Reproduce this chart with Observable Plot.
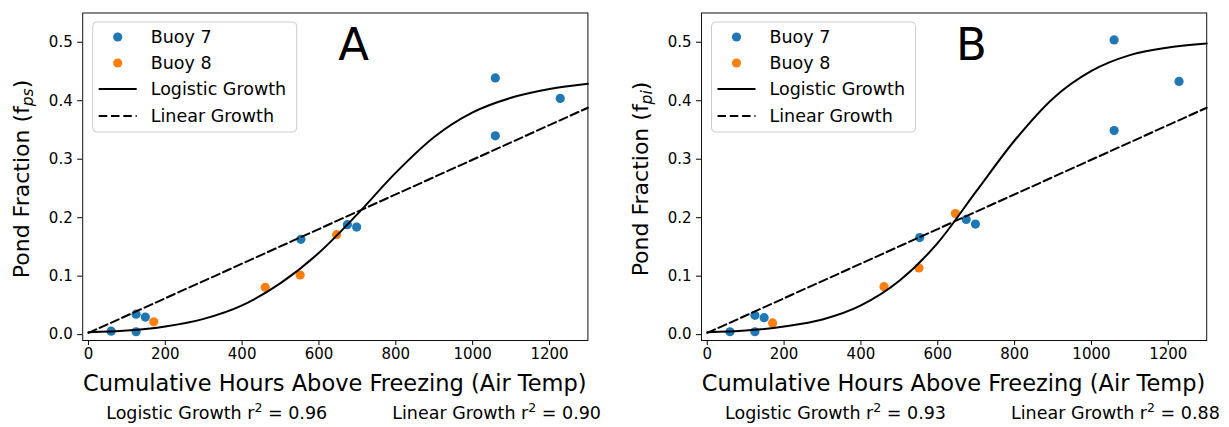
<!DOCTYPE html>
<html>
<head>
<meta charset="utf-8">
<script src="https://cdn.jsdelivr.net/npm/d3@7"></script>
<script src="https://cdn.jsdelivr.net/npm/@observablehq/plot@0.6"></script>
<style>
  html, body { margin: 0; padding: 0; background: white; }
  #wrap { position: relative; width: 1229px; height: 427px; overflow: hidden; font-family: "DejaVu Sans", sans-serif; }
  #wrap svg { position: absolute; top: 0; }
</style>
</head>
<body>
<div id="wrap"></div>
<script>
// ---- data ----
const xTicks = [0, 200, 400, 600, 800, 1000, 1200];
const yTicks = [0.0, 0.1, 0.2, 0.3, 0.4, 0.5];

const buoy7Hours = [59, 124, 124, 148, 553, 674, 698, 1059, 1059, 1228];
const buoy8Hours = [170, 460, 551, 646];

const buoy7A = [0.006, 0.005, 0.035, 0.030, 0.163, 0.188, 0.184, 0.439, 0.340, 0.404];
const buoy8A = [0.022, 0.081, 0.102, 0.171];
const buoy7B = [0.005, 0.005, 0.033, 0.029, 0.166, 0.197, 0.189, 0.504, 0.349, 0.433];
const buoy8B = [0.020, 0.082, 0.114, 0.207];

const curveHours = [0, 100, 200, 300, 400, 500, 600, 700, 800, 900, 1000, 1100, 1200, 1300];
const logisticA = [0.004, 0.007, 0.014, 0.027, 0.050, 0.088, 0.140, 0.206, 0.277, 0.338, 0.380, 0.405, 0.420, 0.429];
const logisticB = [0.004, 0.007, 0.014, 0.026, 0.050, 0.092, 0.157, 0.245, 0.332, 0.404, 0.451, 0.478, 0.491, 0.498];

const linearHours = [0, 1300];
const linearA = [0.003, 0.388];
const linearB = [0.003, 0.388];

const panelLetters = ["A", "B"];
const ySubscripts = ["ps", "pi"];
const r2Logistic = ["0.96", "0.93"];
const r2Linear = ["0.90", "0.88"];
const seriesNames = ["Buoy 7", "Buoy 8", "Logistic Growth", "Linear Growth"];

const blue = "#1f77b4", orange = "#ff7f0e";
const dash = "8.5,3.8";

function pts(xs, ys) { return xs.map((x, i) => ({x, y: ys[i]})); }

function panel(cfg) {
  const svg = Plot.plot({
    width: cfg.width,
    height: 427,
    marginLeft: cfg.mL,
    marginRight: cfg.mR,
    marginTop: 12.5,
    marginBottom: 87,
    x: {domain: [-15, 1300]},
    y: {domain: [-0.01, 0.55]},
    style: {fontFamily: "DejaVu Sans", fontSize: "15px", color: "black", background: "white", overflow: "visible"},
    marks: [
      Plot.axisX({ticks: xTicks, tickSize: 5, tickPadding: 3, tickFormat: d => String(d), label: null, fontSize: 15}),
      Plot.axisY({ticks: yTicks, tickSize: 5, tickPadding: 5, tickFormat: d3.format(".1f"), label: null, fontSize: 15}),
      Plot.dot(pts(buoy7Hours, cfg.b7), {x: "x", y: "y", r: 4.6, fill: blue}),
      Plot.dot(pts(buoy8Hours, cfg.b8), {x: "x", y: "y", r: 4.6, fill: orange}),
      Plot.line(pts(curveHours, cfg.logi), {x: "x", y: "y", stroke: "black", strokeWidth: 2, curve: "monotone-x"}),
      Plot.line(pts(linearHours, cfg.lin), {x: "x", y: "y", stroke: "black", strokeWidth: 2, strokeDasharray: dash}),
      Plot.frame({stroke: "#111", strokeWidth: 1})
    ]
  });
  svg.style.left = cfg.left + "px";
  const s = d3.select(svg);
  const x0 = cfg.mL, x1 = cfg.width - cfg.mR;
  const cx = (x0 + x1) / 2;

  // x label
  s.append("text").attr("x", cx).attr("y", 391).attr("text-anchor", "middle")
    .attr("font-family", "DejaVu Sans").attr("font-size", 22.5).attr("fill", "black")
    .text("Cumulative Hours Above Freezing (Air Temp)");

  // y label with subscript
  const yl = s.append("text").attr("transform", `translate(${cfg.mL - 53},179) rotate(-90)`)
    .attr("text-anchor", "middle").attr("font-family", "DejaVu Sans").attr("font-size", 22).attr("fill", "black");
  yl.append("tspan").text("Pond Fraction (f");
  yl.append("tspan").attr("font-size", 15.5).attr("font-style", "italic").attr("dy", 4).text(cfg.sub);
  yl.append("tspan").attr("dy", -4).text(")");

  // panel letter
  s.append("text").attr("x", x0 + cfg.letterDx).attr("y", 60).attr("text-anchor", "start").attr("font-family", "DejaVu Sans")
    .attr("font-size", 45).attr("fill", "black").text(cfg.letter);

  // legend
  const lx = x0 + 10.5, ly = 22;
  s.append("rect").attr("x", lx).attr("y", ly).attr("width", 204).attr("height", 110).attr("rx", 4)
    .attr("fill", "white").attr("fill-opacity", 0.8).attr("stroke", "#cccccc").attr("stroke-width", 1);
  const rows = [37, 63, 89, 116];
  const sx0 = lx + 6, sx1 = lx + 44, tx = lx + 58;
  s.append("circle").attr("cx", (sx0 + sx1) / 2).attr("cy", rows[0]).attr("r", 4.6).attr("fill", blue);
  s.append("circle").attr("cx", (sx0 + sx1) / 2).attr("cy", rows[1]).attr("r", 4.6).attr("fill", orange);
  s.append("line").attr("x1", sx0).attr("x2", sx1).attr("y1", rows[2]).attr("y2", rows[2]).attr("stroke", "black").attr("stroke-width", 2);
  s.append("line").attr("x1", sx0).attr("x2", sx1).attr("y1", rows[3]).attr("y2", rows[3]).attr("stroke", "black").attr("stroke-width", 2).attr("stroke-dasharray", dash);
  seriesNames.forEach((n, i) => {
    s.append("text").attr("x", tx).attr("y", rows[i] + 6.3).attr("text-anchor", "start").attr("font-family", "DejaVu Sans")
      .attr("font-size", 17.5).attr("fill", "black").text(n);
  });

  // r^2 annotations
  const r1 = s.append("text").attr("x", x0 + 24).attr("y", 419).attr("text-anchor", "start").attr("font-family", "DejaVu Sans").attr("font-size", 17.5).attr("fill", "black");
  r1.append("tspan").text("Logistic Growth r");
  r1.append("tspan").attr("font-size", 12.5).attr("dy", -7).text("2");
  r1.append("tspan").attr("dy", 7).text(" = " + cfg.r2a);
  const r2 = s.append("text").attr("x", x0 + 310).attr("y", 419).attr("text-anchor", "start").attr("font-family", "DejaVu Sans").attr("font-size", 17.5).attr("fill", "black");
  r2.append("tspan").text("Linear Growth r");
  r2.append("tspan").attr("font-size", 12.5).attr("dy", -7).text("2");
  r2.append("tspan").attr("dy", 7).text(" = " + cfg.r2b);

  return svg;
}

const wrap = document.getElementById("wrap");
wrap.appendChild(panel({left: 0, width: 614, mL: 82.2, mR: 26.6, b7: buoy7A, b8: buoy8A, logi: logisticA, lin: linearA,
  letter: panelLetters[0], letterDx: 256, sub: ySubscripts[0], r2a: r2Logistic[0], r2b: r2Linear[0]}));
wrap.appendChild(panel({left: 614, width: 615, mL: 87, mR: 22.8, b7: buoy7B, b8: buoy8B, logi: logisticB, lin: linearB,
  letter: panelLetters[1], letterDx: 255, sub: ySubscripts[1], r2a: r2Logistic[1], r2b: r2Linear[1]}));
</script>
</body>
</html>
